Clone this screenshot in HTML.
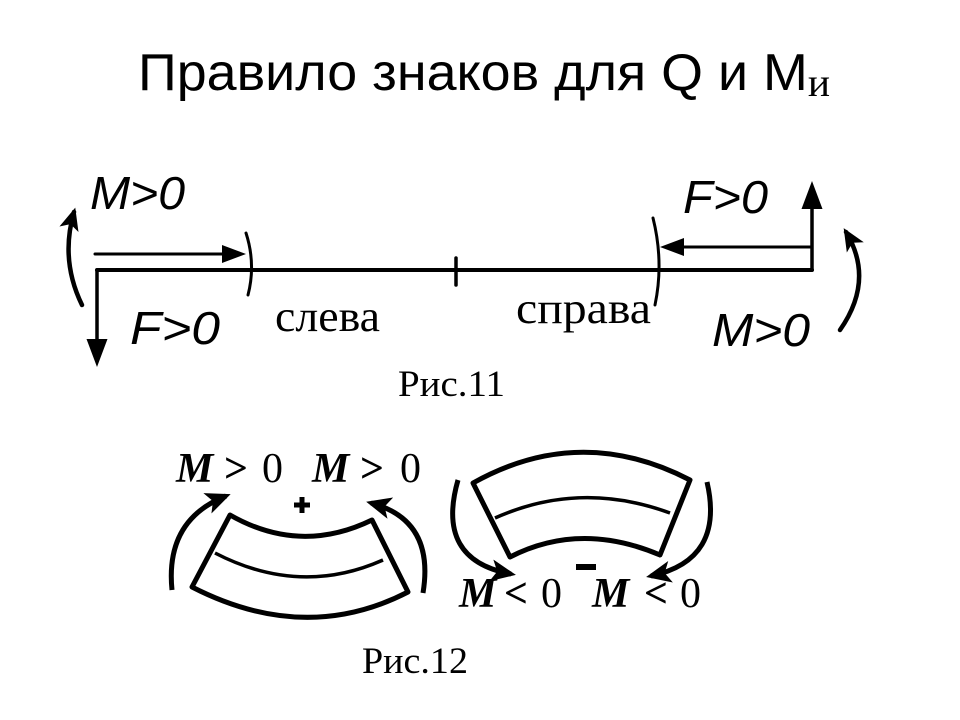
<!DOCTYPE html>
<html><head><meta charset="utf-8"><style>
html,body{margin:0;padding:0;background:#fff;width:960px;height:720px;overflow:hidden}
</style></head><body>
<svg width="960" height="720" viewBox="0 0 960 720" xmlns="http://www.w3.org/2000/svg">
<defs>
<marker id="ah" markerWidth="8" markerHeight="8" refX="6" refY="4" orient="auto" markerUnits="strokeWidth"><path d="M0,1 L8,4 L0,7 z" fill="#000"/></marker>
<marker id="ah2" markerWidth="5" markerHeight="5" refX="4" refY="2.5" orient="auto" markerUnits="strokeWidth"><path d="M0,0.3 L5,2.5 L0,4.7 L1.2,2.5 z" fill="#000"/></marker>
</defs>
<text x="138" y="90" textLength="692" lengthAdjust="spacingAndGlyphs" font-family="Liberation Sans, sans-serif" font-size="52" fill="#000">Правило знаков для Q и М<tspan font-family="Liberation Serif, serif" font-size="40" dy="6">и</tspan></text>

<g stroke="#000" fill="none" stroke-linecap="round">
<path d="M97,270 L812,270" stroke-width="4"/>
<path d="M97,270 L97,360" stroke-width="3.5" marker-end="url(#ah)"/>
<path d="M95,254 L240,254" stroke-width="3" marker-end="url(#ah)"/>
<path d="M246,233 Q256,264 248,295" stroke-width="3"/>
<path d="M456,258 L456,285" stroke-width="3.5"/>
<path d="M653,218 Q664,262 655,305" stroke-width="3"/>
<path d="M812,247 L666,247" stroke-width="3" marker-end="url(#ah)"/>
<path d="M812,270 L812,247 L812,188" stroke-width="3.5" marker-end="url(#ah)"/>
<path d="M82,305 Q60,260 74,212" stroke-width="4.5" marker-end="url(#ah2)"/>
<path d="M840,330 Q875,280 846,232" stroke-width="4.5" marker-end="url(#ah2)"/>
</g>
<g font-family="Liberation Sans, sans-serif" font-style="italic" font-size="46" fill="#000">
<text x="90" y="209" textLength="95" lengthAdjust="spacingAndGlyphs">M&gt;0</text>
<text x="130" y="344" textLength="90" lengthAdjust="spacingAndGlyphs">F&gt;0</text>
<text x="683" y="213" textLength="85" lengthAdjust="spacingAndGlyphs">F&gt;0</text>
<text x="712" y="346" textLength="98" lengthAdjust="spacingAndGlyphs">M&gt;0</text>
</g>
<g font-family="Liberation Serif, serif" fill="#000">
<text x="275" y="331" font-size="44" textLength="105" lengthAdjust="spacingAndGlyphs">слева</text>
<text x="516" y="323" font-size="44" textLength="135" lengthAdjust="spacingAndGlyphs">справа</text>
<text x="398" y="396" font-size="37" textLength="107" lengthAdjust="spacingAndGlyphs">Рис.11</text>
<text x="362" y="673" font-size="37" textLength="106" lengthAdjust="spacingAndGlyphs">Рис.12</text>
</g>

<g stroke="#000" fill="none" stroke-width="5" stroke-linejoin="round">
<path d="M230,515 Q300,555 372,520 L408,592 Q305,645 192,587 Z"/>
<path d="M215,553 Q300,597 383,560" stroke-width="3.5"/>
<path d="M473,483 Q580,423 690,480 L660,555 Q580,521 510,557 Z"/>
<path d="M495,518 Q580,480 670,513" stroke-width="3.5"/>
<path d="M172,590 Q165,520 226,496" marker-end="url(#ah2)"/>
<path d="M423,593 Q435,520 371,503" marker-end="url(#ah2)"/>
<path d="M458,480 Q435,560 511,574" marker-end="url(#ah2)"/>
<path d="M707,482 Q725,560 651,576" marker-end="url(#ah2)"/>
<path d="M294,505 L310,505 M302,497 L302,513" stroke-width="5"/>
<path d="M576,567 L596,567" stroke-width="6"/>
</g>
<g font-family="Liberation Serif, serif" font-size="42" fill="#000">
<text y="482"><tspan x="176" font-style="italic" font-weight="bold">M</tspan><tspan x="224" font-weight="bold">&gt;</tspan><tspan x="262">0</tspan><tspan x="312" font-style="italic" font-weight="bold">M</tspan><tspan x="360" font-weight="bold">&gt;</tspan><tspan x="400">0</tspan></text>
<text y="607"><tspan x="459" font-style="italic" font-weight="bold">M</tspan><tspan x="504" font-weight="bold">&lt;</tspan><tspan x="541">0</tspan><tspan x="592" font-style="italic" font-weight="bold">M</tspan><tspan x="644" font-weight="bold">&lt;</tspan><tspan x="680">0</tspan></text>
</g>
</svg>
</body></html>
